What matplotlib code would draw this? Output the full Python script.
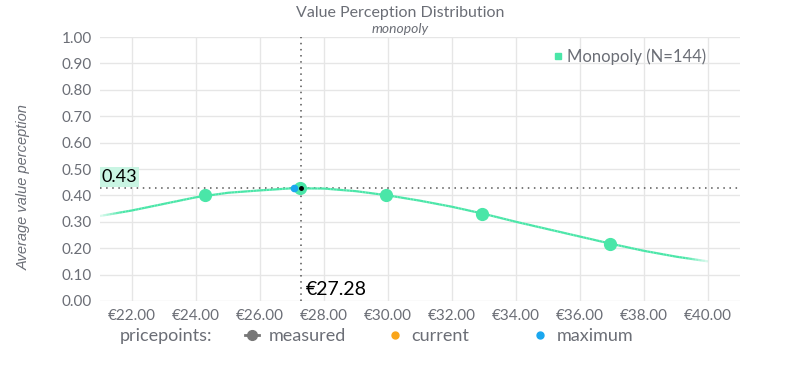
import numpy as np
import matplotlib
matplotlib.use('Agg')
from matplotlib import pyplot as plt
from matplotlib.collections import LineCollection
from matplotlib.lines import Line2D
from matplotlib.colors import to_rgba

plt.rcParams['font.family'] = ['Lato', 'DejaVu Sans']

# fitted curve
curve_price = [21, 22, 23, 24, 25, 26, 27, 28, 29, 30, 31, 32, 33, 34, 35, 36, 37, 38, 39, 40]
curve_value = [0.322, 0.343, 0.368, 0.393, 0.410, 0.419, 0.427, 0.426, 0.416, 0.400, 0.380,
               0.357, 0.330, 0.300, 0.272, 0.244, 0.216, 0.190, 0.168, 0.150]

# measured price points
measured_price = [24.28, 27.25, 29.94, 32.94, 36.94]
measured_value = [0.400, 0.428, 0.400, 0.330, 0.216]

max_price = 27.06
max_value = 0.428
opt_price = 27.28
opt_value = 0.428

xticks = [22, 24, 26, 28, 30, 32, 34, 36, 38, 40]
yticks = [0.0, 0.1, 0.2, 0.3, 0.4, 0.5, 0.6, 0.7, 0.8, 0.9, 1.0]

green = '#4ae6a8'
grey = '#6b6e76'
blue = '#1aa7ef'
orange = '#f9a51a'

fig = plt.figure(figsize=(8, 3.76), dpi=100)
ax = fig.add_axes([0.125, 0.1995, 0.80, 0.702])

# curve with faded ends
xs, ys = [], []
n = len(curve_price)
for i in range(n - 1):
    for t in np.linspace(0, 1, 11)[:-1]:
        xs.append(curve_price[i] + t * (curve_price[i + 1] - curve_price[i]))
        ys.append(curve_value[i] + t * (curve_value[i + 1] - curve_value[i]))
xs.append(curve_price[-1]); ys.append(curve_value[-1])
xs = np.array(xs); ys = np.array(ys)
fade = np.clip(np.minimum(xs - xs[0], xs[-1] - xs) / 0.7, 0, 1)
pts = np.column_stack([xs, ys]).reshape(-1, 1, 2)
segs = np.concatenate([pts[:-1], pts[1:]], axis=1)
cols = [to_rgba(green, 0.15 + 0.85 * (fade[i] + fade[i + 1]) / 2) for i in range(len(segs))]
ax.add_collection(LineCollection(segs, colors=cols, linewidths=1.6, zorder=3))

ax.plot(measured_price, measured_value, 'o', color=green, ms=8.5, zorder=4)
ax.plot([max_price], [max_value], 'o', color=blue, ms=4.5, zorder=5)
ax.plot([opt_price], [opt_value], 'o', color='black', ms=2.5, zorder=6)

# crosshair
ax.axhline(opt_value, color='#555555', lw=1.1, ls=(0, (1, 3)), zorder=2)
ax.plot([opt_price, opt_price], [0, 1], color='#555555', lw=1.1, ls=(0, (1, 3)), zorder=2)
ax.text(21.05, opt_value + 0.012, '%.2f' % opt_value, fontsize=13, color='black',
        va='bottom', ha='left', zorder=7,
        bbox=dict(boxstyle='square,pad=0.1', fc='#c9f5e3', ec='none'))
ax.text(opt_price + 0.15, 0.01, '€%.2f' % opt_price, fontsize=14, color='black',
        va='bottom', ha='left', zorder=7)

ax.set_xlim(21, 41)
ax.set_ylim(0, 1)
ax.set_xticks(xticks)
ax.set_xticklabels(['€%.2f' % v for v in xticks])
ax.set_yticks(yticks)
ax.set_yticklabels(['%.2f' % v for v in yticks])
ax.grid(True, color='#e6e6e6', lw=1)
ax.set_axisbelow(True)
for s in ax.spines.values():
    s.set_visible(False)
ax.tick_params(length=0, labelsize=11, colors=grey, pad=6)
ax.set_ylabel('Average value perception', fontsize=10.5, style='italic', color=grey,
              family=['Liberation Sans', 'DejaVu Sans'])
ax.yaxis.set_label_coords(-0.108, 0.43)

fig.text(0.5, 0.985, 'Value Perception Distribution', ha='center', va='top', fontsize=11.5, color=grey)
fig.text(0.5, 0.94, 'monopoly', ha='center', va='top', fontsize=10, style='italic', color=grey)

# top legend
ax.legend(handles=[Line2D([], [], marker='s', ls='none', color=green, ms=5)],
          labels=['Monopoly (N=144)'], loc='upper right', bbox_to_anchor=(0.97, 1.015),
          frameon=False, fontsize=12, handletextpad=0.0, labelcolor=grey, handlelength=1.0)

# bottom legend
fig.text(0.15, 0.106, 'pricepoints:', fontsize=13, color=grey, va='center')
bottom_items = [
    (Line2D([], [], marker='o', color='#777777', ms=7, lw=2), 'measured', 245),
    (Line2D([], [], marker='o', ls='none', color=orange, ms=5), 'current', 388),
    (Line2D([], [], marker='o', ls='none', color=blue, ms=5), 'maximum', 533),
]
for handle, label, px in bottom_items:
    fig.legend(handles=[handle], labels=[label], loc='center left',
               bbox_to_anchor=(px / 800, 0.106), frameon=False, fontsize=13,
               labelcolor=grey, handlelength=0.8, handletextpad=0.5,
               borderpad=0, borderaxespad=0)

fig.savefig('out.png', dpi=100)
